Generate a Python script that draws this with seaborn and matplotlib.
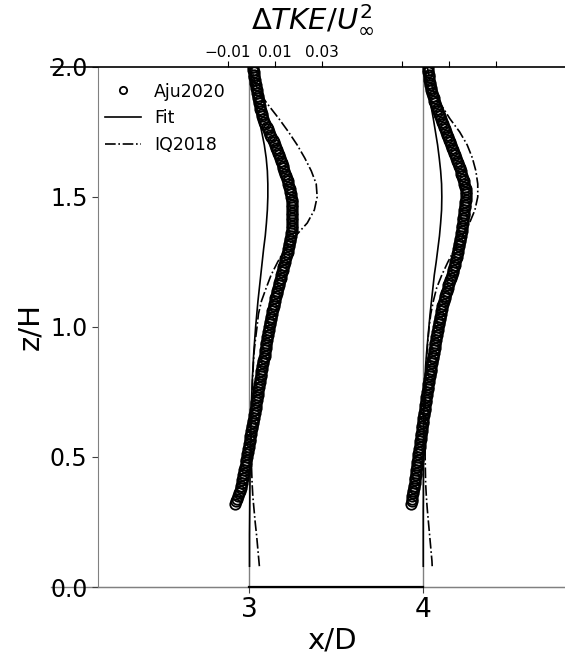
import matplotlib
matplotlib.use("Agg")
import matplotlib.pyplot as plt
import pandas as pd
import seaborn as sns

# Streamwise stations of the two profiles (x/D)
stations = [3, 4]

# Aju2020 measurements: height z/H and dTKE/U_inf^2 (in units of 1e-3)
z_meas = [0.32, 0.33, 0.34, 0.35, 0.36, 0.37, 0.38, 0.39,
          0.40, 0.41, 0.42, 0.43, 0.44, 0.45, 0.46, 0.47, 0.48, 0.49,
          0.50, 0.51, 0.52, 0.53, 0.54, 0.55, 0.56, 0.57, 0.58, 0.59,
          0.60, 0.61, 0.62, 0.63, 0.64, 0.65, 0.66, 0.67, 0.68, 0.69,
          0.70, 0.71, 0.72, 0.73, 0.74, 0.75, 0.76, 0.77, 0.78, 0.79,
          0.80, 0.81, 0.82, 0.83, 0.84, 0.85, 0.86, 0.87, 0.88, 0.89,
          0.90, 0.91, 0.92, 0.93, 0.94, 0.95, 0.96, 0.97, 0.98, 0.99,
          1.00, 1.01, 1.02, 1.03, 1.04, 1.05, 1.06, 1.07, 1.08, 1.09,
          1.10, 1.11, 1.12, 1.13, 1.14, 1.15, 1.16, 1.17, 1.18, 1.19,
          1.20, 1.21, 1.22, 1.23, 1.24, 1.25, 1.26, 1.27, 1.28, 1.29,
          1.30, 1.31, 1.32, 1.33, 1.34, 1.35, 1.36, 1.37, 1.38, 1.39,
          1.40, 1.41, 1.42, 1.43, 1.44, 1.45, 1.46, 1.47, 1.48, 1.49,
          1.50, 1.51, 1.52, 1.53, 1.54, 1.55, 1.56, 1.57, 1.58, 1.59,
          1.60, 1.61, 1.62, 1.63, 1.64, 1.65, 1.66, 1.67, 1.68, 1.69,
          1.70, 1.71, 1.72, 1.73, 1.74, 1.75, 1.76, 1.77, 1.78, 1.79,
          1.80, 1.81, 1.82, 1.83, 1.84, 1.85, 1.86, 1.87, 1.88, 1.89,
          1.90, 1.91, 1.92, 1.93, 1.94, 1.95, 1.96, 1.97, 1.98, 1.99,
          2.00]
aju_x3 = [-5.8, -5.4, -5.0, -4.6, -4.3, -3.9, -3.6, -3.3,
          -3.0, -2.8, -2.6, -2.4, -2.2, -2.0, -1.8, -1.5, -1.3, -1.1,
          -0.9, -0.7, -0.5, -0.35, -0.2, 0.0, 0.2, 0.35, 0.5, 0.7,
          0.9, 1.1, 1.3, 1.5, 1.7, 1.9, 2.1, 2.35, 2.6, 2.8,
          3.0, 3.15, 3.3, 3.45, 3.6, 3.8, 4.0, 4.15, 4.3, 4.5,
          4.7, 4.9, 5.1, 5.3, 5.5, 5.7, 5.9, 6.15, 6.4, 6.6,
          6.8, 6.95, 7.1, 7.25, 7.4, 7.6, 7.8, 7.95, 8.1, 8.3,
          8.5, 8.75, 9.0, 9.2, 9.4, 9.65, 9.9, 10.2, 10.5, 10.75,
          11.0, 11.25, 11.5, 11.75, 12.0, 12.3, 12.6, 12.85, 13.1, 13.4,
          13.7, 14.0, 14.3, 14.6, 14.9, 15.2, 15.5, 15.8, 16.1, 16.4,
          16.7, 16.95, 17.2, 17.4, 17.6, 17.8, 18.0, 18.1, 18.2, 18.3,
          18.4, 18.45, 18.5, 18.5, 18.5, 18.45, 18.4, 18.3, 18.2, 18.1,
          18.0, 17.75, 17.5, 17.25, 17.0, 16.7, 16.4, 16.05, 15.7, 15.35,
          15.0, 14.65, 14.3, 13.95, 13.6, 13.2, 12.8, 12.35, 11.9, 11.45,
          11.0, 10.5, 10.0, 9.5, 9.0, 8.5, 8.0, 7.5, 7.0, 6.5,
          6.0, 5.7, 5.4, 5.1, 4.8, 4.55, 4.3, 4.05, 3.8, 3.6,
          3.4, 3.2, 3.0, 2.8, 2.6, 2.45, 2.3, 2.15, 2.0, 1.85,
          1.7]
aju_x4 = [-5.1, -4.9, -4.7, -4.5, -4.3, -4.1, -3.9, -3.75,
          -3.6, -3.45, -3.3, -3.15, -3.0, -2.85, -2.7, -2.55, -2.4, -2.25,
          -2.1, -1.95, -1.8, -1.65, -1.5, -1.35, -1.2, -1.05, -0.9, -0.75,
          -0.6, -0.45, -0.3, -0.15, 0.0, 0.15, 0.3, 0.5, 0.7, 0.85,
          1.0, 1.15, 1.3, 1.45, 1.6, 1.8, 2.0, 2.15, 2.3, 2.5,
          2.7, 2.85, 3.0, 3.2, 3.4, 3.6, 3.8, 4.0, 4.2, 4.35,
          4.5, 4.7, 4.9, 5.1, 5.3, 5.5, 5.7, 5.9, 6.1, 6.3,
          6.5, 6.7, 6.9, 7.1, 7.3, 7.45, 7.6, 7.9, 8.2, 8.55,
          8.9, 9.2, 9.5, 9.8, 10.1, 10.45, 10.8, 11.15, 11.5, 11.85,
          12.2, 12.55, 12.9, 13.2, 13.5, 13.8, 14.1, 14.35, 14.6, 14.8,
          15.0, 15.2, 15.4, 15.6, 15.8, 16.0, 16.2, 16.4, 16.6, 16.75,
          16.9, 17.0, 17.1, 17.25, 17.4, 17.55, 17.7, 17.85, 18.0, 18.15,
          18.3, 18.3, 18.3, 18.1, 17.9, 17.65, 17.4, 17.05, 16.7, 16.35,
          16.0, 15.6, 15.2, 14.85, 14.5, 14.1, 13.7, 13.3, 12.9, 12.5,
          12.1, 11.65, 11.2, 10.75, 10.3, 9.85, 9.4, 9.0, 8.6, 8.15,
          7.7, 7.25, 6.8, 6.4, 6.0, 5.6, 5.2, 4.85, 4.5, 4.15,
          3.8, 3.55, 3.3, 3.1, 2.9, 2.7, 2.5, 2.35, 2.2, 2.1,
          2.0]

# Model curves: fitted profile and IQ2018 (dTKE/U_inf^2 in units of 1e-3)
z_model = [0.08, 0.10, 0.15, 0.20, 0.25, 0.30, 0.35, 0.40, 0.45, 0.50,
           0.55, 0.60, 0.65, 0.70, 0.75, 0.80, 0.85, 0.90, 0.95, 1.00,
           1.05, 1.10, 1.15, 1.20, 1.25, 1.30, 1.35, 1.40, 1.45, 1.50,
           1.55, 1.60, 1.65, 1.70, 1.75, 1.80, 1.85, 1.90, 1.95, 2.00]
fit_x3 = [0.2, 0.2, 0.2, 0.2, 0.25, 0.3, 0.35, 0.4, 0.45, 0.5,
          0.6, 0.7, 0.85, 1.0, 1.2, 1.4, 1.7, 2.0, 2.4, 2.8,
          3.3, 3.8, 4.4, 5.0, 5.6, 6.2, 6.9, 7.4, 7.8, 8.0,
          8.0, 7.8, 7.3, 6.5, 5.4, 4.2, 3.0, 2.0, 1.2, 0.5]
fit_x4 = [0.1, 0.1, 0.1, 0.1, 0.1, 0.1, 0.15, 0.15, 0.2, 0.2,
          0.2, 0.25, 0.3, 0.4, 0.6, 0.8, 1.1, 1.5, 2.0, 2.5,
          3.0, 3.6, 4.2, 4.8, 5.6, 6.3, 7.0, 7.5, 7.9, 8.0,
          7.9, 7.5, 6.9, 6.2, 5.3, 4.4, 3.4, 2.4, 1.4, 0.6]
iq_x3 = [4.4, 4.2, 3.7, 3.2, 2.6, 2.1, 1.6, 1.3, 1.1, 0.9,
         0.9, 0.9, 1.0, 1.1, 1.3, 1.5, 1.8, 2.1, 2.7, 3.4,
         4.0, 5.3, 7.3, 9.4, 12.2, 15.4, 19.8, 24.8, 27.8, 29.0,
         28.6, 26.5, 23.7, 20.5, 16.8, 12.8, 8.5, 4.3, 2.2, 1.0]
iq_x4 = [3.9, 3.8, 3.3, 2.8, 2.3, 1.8, 1.4, 1.1, 1.0, 0.9,
         0.9, 0.9, 0.9, 1.0, 1.1, 1.2, 1.4, 1.7, 2.1, 2.6,
         3.3, 4.4, 5.8, 8.0, 10.6, 13.5, 16.8, 19.8, 22.1, 23.3,
         23.3, 22.5, 21.0, 18.8, 15.6, 11.5, 8.0, 4.8, 2.9, 1.8]

# Top-axis tick values of dTKE/U_inf^2
top_ticks = [-0.01, 0.01, 0.03]
top_labels = ["\u22120.01", "0.01", "0.03"]
y_ticks = [0.0, 0.5, 1.0, 1.5, 2.0]

# x/D displacement per unit of dTKE/U_inf^2
SCALE = 13.5
UNIT = 1e-3

plt.rcParams["font.family"] = ["DejaVu Sans"]


def offset_frame(z, profiles):
    return pd.concat([
        pd.DataFrame({"station": s, "z": z,
                      "x": [s + SCALE * UNIT * v for v in vals]})
        for s, vals in zip(stations, profiles)
    ])


meas = offset_frame(z_meas, [aju_x3, aju_x4])
fit = offset_frame(z_model, [fit_x3, fit_x4])
iq = offset_frame(z_model, [iq_x3, iq_x4])

fig = plt.figure(figsize=(5.65, 6.6), dpi=100)
ax = fig.add_axes([0.1735, 0.1106, 0.8265, 0.788])
ax.set_xlim(2.132, 4.816)
ax.set_ylim(0, 2)

# zero reference line of each profile
for s in stations:
    ax.plot([s, s], [0, 2], color="#808080", lw=1.0, zorder=1)

for s in stations:
    d = meas[meas.station == s]
    sns.lineplot(data=d, x="x", y="z", sort=False, estimator=None, ax=ax,
                 linestyle="", marker="o", markersize=7.5, mfc="none",
                 mec="black", mew=1.3, color="black", zorder=3)
    d = fit[fit.station == s]
    sns.lineplot(data=d, x="x", y="z", sort=False, estimator=None, ax=ax,
                 color="black", lw=1.2, zorder=2)
    d = iq[iq.station == s]
    sns.lineplot(data=d, x="x", y="z", sort=False, estimator=None, ax=ax,
                 color="black", lw=1.2, linestyle="-.", zorder=2)

lines = ax.get_lines()
leg_handles = [lines[2], lines[3], lines[4]]
ax.legend(leg_handles, ["Aju2020", "Fit", "IQ2018"], loc="upper left",
          frameon=False, fontsize=12.5, handlelength=2.1,
          handletextpad=0.75, numpoints=1, markerscale=0.7,
          bbox_to_anchor=(-0.019, 1.0))

# base line joining the two stations
ax.plot(stations, [0, 0], color="black", lw=1.6, zorder=4, clip_on=False)
# horizontal rules at the bottom and top of the domain
ax.axhline(0, xmin=-0.1, xmax=1.0, color="#808080", lw=1.0, clip_on=False, zorder=0)
ax.axhline(2, xmin=-0.1, xmax=1.0, color="black", lw=1.2, clip_on=False, zorder=5)

for side in ["right", "top"]:
    ax.spines[side].set_visible(False)
for side in ["left", "bottom"]:
    ax.spines[side].set_color("#808080")

ax.set_xticks(stations)
ax.set_xticklabels([str(s) for s in stations], fontsize=19)
ax.set_yticks(y_ticks)
ax.set_yticklabels([f"{v:.1f}" for v in y_ticks], fontsize=17)
ax.tick_params(axis="both", direction="out", length=4, color="#404040")
ax.set_xlabel("x/D", fontsize=21, labelpad=2)
ax.set_ylabel("z/H", fontsize=21, labelpad=4)

# secondary axis with dTKE/U_inf^2 ticks around each station
ax2 = ax.twiny()
ax2.set_xlim(ax.get_xlim())
tick_pos = [s + 0.013 + SCALE * t for s in stations for t in top_ticks]
tick_lab = top_labels + [""] * len(top_ticks)
ax2.set_xticks(tick_pos)
ax2.set_xticklabels(tick_lab, fontsize=11)
ax2.tick_params(axis="x", direction="out", length=4, pad=1)
for side in ["right", "left", "bottom", "top"]:
    ax2.spines[side].set_visible(False)
ax2.set_xlabel(r"$\Delta TKE/U_{\infty}^2$", fontsize=21, labelpad=2)
ax2.xaxis.set_label_coords(0.46, 1.075)

fig.savefig("out.png", dpi=100)
